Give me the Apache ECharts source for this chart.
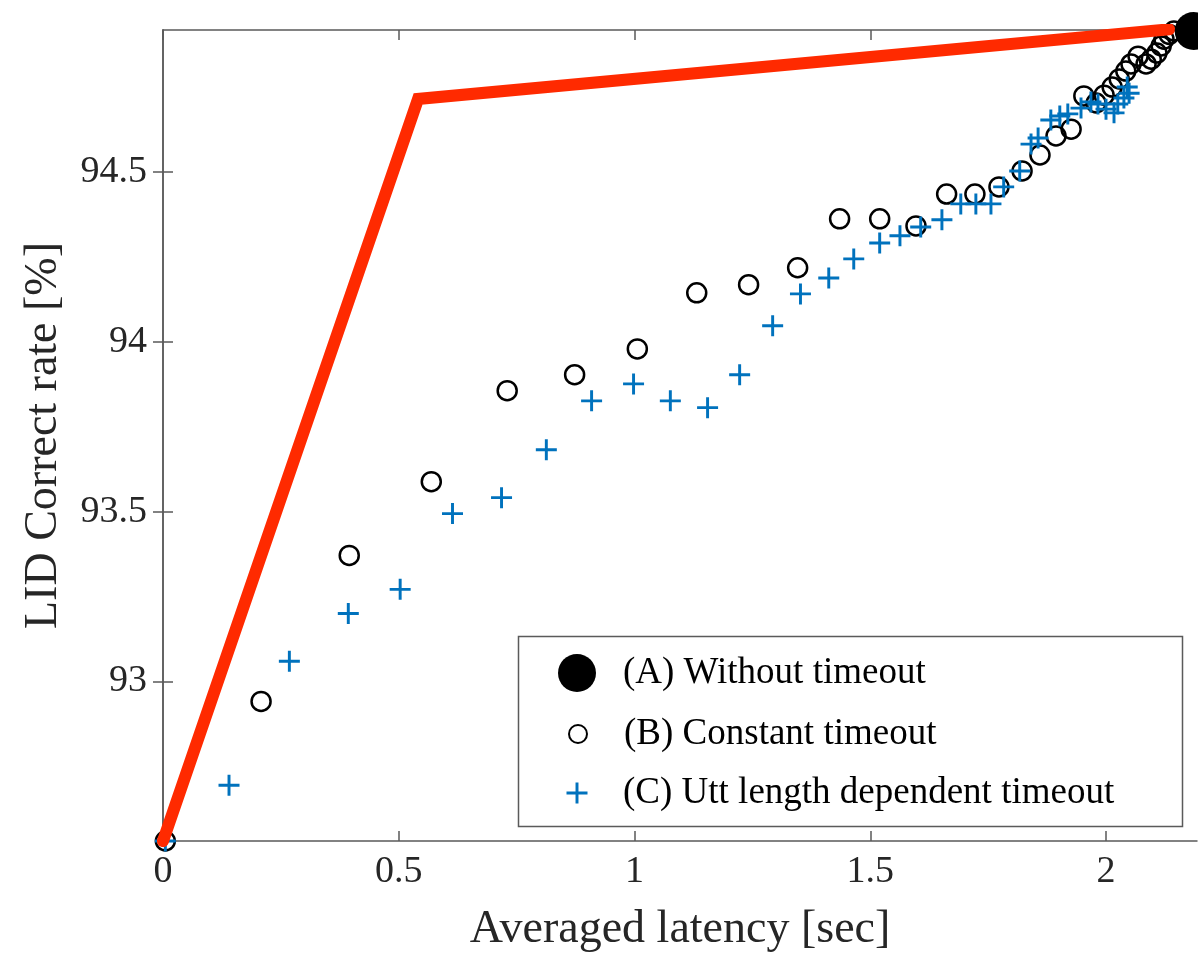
<!DOCTYPE html>
<html>
<head>
<meta charset="utf-8">
<title>LID correct rate vs latency</title>
<script src="https://cdn.jsdelivr.net/npm/echarts@6/dist/echarts.min.js"></script>
<style>
  html, body { margin: 0; padding: 0; background: #fff; }
  #chart { width: 1198px; height: 955px; }
</style>
</head>
<body>
<div id="chart"></div>
<script>
  // (A) without timeout
  var pointA = [[2.186, 94.915]];

  // (B) constant timeout
  var constX = [0.005, 0.208, 0.395, 0.569, 0.730, 0.873, 1.006, 1.132, 1.242, 1.346,
    1.435, 1.520, 1.597, 1.662, 1.722, 1.773, 1.822, 1.860, 1.894, 1.926,
    1.953, 1.979, 1.996, 2.013, 2.028, 2.042, 2.053, 2.068, 2.085, 2.096,
    2.108, 2.117, 2.123, 2.134, 2.144];
  var constY = [92.53, 92.941, 93.371, 93.588, 93.856, 93.903, 93.979, 94.144, 94.168, 94.218,
    94.362, 94.362, 94.341, 94.435, 94.435, 94.456, 94.503, 94.55, 94.606, 94.626,
    94.724, 94.703, 94.726, 94.75, 94.774, 94.797, 94.818, 94.841, 94.818, 94.832,
    94.85, 94.871, 94.891, 94.905, 94.915];

  // (C) utt length dependent timeout
  var uttX = [0.005, 0.140, 0.268, 0.393, 0.503, 0.614, 0.718, 0.813, 0.909, 0.998,
    1.076, 1.155, 1.223, 1.293, 1.352, 1.412, 1.465, 1.520, 1.563, 1.607,
    1.652, 1.692, 1.724, 1.756, 1.783, 1.817, 1.841, 1.856, 1.883, 1.902,
    1.919, 1.947, 1.968, 1.983, 2.000, 2.017, 2.025, 2.038, 2.049, 2.045];
  var uttY = [92.53, 92.694, 93.059, 93.2, 93.271, 93.494, 93.541, 93.682, 93.826, 93.876,
    93.826, 93.806, 93.903, 94.047, 94.141, 94.188, 94.244, 94.291, 94.312, 94.338,
    94.359, 94.406, 94.406, 94.406, 94.456, 94.503, 94.582, 94.6, 94.653, 94.665,
    94.671, 94.688, 94.706, 94.7, 94.685, 94.674, 94.7, 94.718, 94.732, 94.75];

  // red upper envelope
  var envX = [0, 0.541, 2.134];
  var envY = [92.53, 94.715, 94.92];

  // tick labels
  var xTicks = [0, 0.5, 1, 1.5, 2];
  var yTicks = [93, 93.5, 94, 94.5];

  var xMin = 0, xMax = 2.193;
  var yMin = 92.53, yMax = 94.918;

  var names = ['(A) Without timeout', '(B) Constant timeout', '(C) Utt length dependent timeout'];

  function zip(xs, ys) {
    return xs.map(function (x, i) { return [x, ys[i]]; });
  }

  var plusPath = 'path://M4.3,0 H5.7 V4.3 H10 V5.7 H5.7 V10 H4.3 V5.7 H0 V4.3 H4.3 Z';
  var serif = 'Liberation Serif';
  var grey = '#5a5a5a';
  var frame = { show: true, lineStyle: { color: grey, width: 1.5 } };
  function ticks(vals) {
    return { show: true, inside: true, length: 10, customValues: vals, lineStyle: { color: grey, width: 1.5 } };
  }
  function legendRow(name, size, top) {
    // icon centred at x=577, text starting at x=623
    var left = 577 - size / 2;
    return {
      data: [name], left: left, top: top, orient: 'vertical', padding: 0,
      itemWidth: size, itemHeight: size,
      textStyle: { fontFamily: serif, fontSize: 37, color: '#000', lineHeight: 42,
        padding: [0, 0, 0, 623 - (left + size + 5)] }
    };
  }

  var chart = echarts.init(document.getElementById('chart'));
  chart.setOption({
    animation: false,
    backgroundColor: '#fff',
    grid: { left: 163, top: 30, right: 1, bottom: 114, containLabel: false, outerBoundsMode: 'none' },
    xAxis: [{
      type: 'value', min: xMin, max: xMax,
      axisLine: frame, axisTick: ticks(xTicks), splitLine: { show: false },
      axisLabel: { customValues: xTicks, fontFamily: serif, fontSize: 38, color: '#262626', margin: 12 },
      name: 'Averaged latency [sec]', nameLocation: 'middle', nameGap: 66,
      nameTextStyle: { fontFamily: serif, fontSize: 46, color: '#262626' }
    }, {
      type: 'value', position: 'top', min: xMin, max: xMax,
      axisLine: frame, axisTick: ticks(xTicks), splitLine: { show: false }, axisLabel: { show: false }
    }],
    yAxis: [{
      type: 'value', min: yMin, max: yMax,
      axisLine: frame, axisTick: ticks(yTicks), splitLine: { show: false },
      axisLabel: { customValues: yTicks, fontFamily: serif, fontSize: 38, color: '#262626', margin: 16 },
      name: 'LID Correct rate [%]', nameLocation: 'middle', nameGap: 96, nameRotate: 90,
      nameTextStyle: { fontFamily: serif, fontSize: 46, color: '#262626' }
    }, {
      type: 'value', position: 'right', min: yMin, max: yMax,
      axisLine: frame, axisTick: ticks(yTicks), splitLine: { show: false }, axisLabel: { show: false }
    }],
    legend: [
      legendRow(names[0], 38, 652),
      legendRow(names[1], 18, 713),
      legendRow(names[2], 21, 772)
    ],
    graphic: [{
      type: 'rect', left: 516, top: 634, z: 100,
      shape: { width: 664, height: 190 },
      style: { fill: 'none', stroke: grey, lineWidth: 1.5 }
    }],
    series: [
      {
        name: names[1], type: 'scatter', data: zip(constX, constY),
        symbol: 'circle', symbolSize: 19, z: 3,
        itemStyle: { color: 'rgba(0,0,0,0)', borderColor: '#000', borderWidth: 2.5, opacity: 1 }
      },
      {
        name: names[2], type: 'scatter', data: zip(uttX, uttY),
        symbol: plusPath, symbolSize: 21, z: 4,
        itemStyle: { color: '#0072bd', opacity: 1 }
      },
      {
        name: 'envelope', type: 'line', data: zip(envX, envY),
        symbol: 'none', z: 5,
        lineStyle: { color: '#ff2a00', width: 12, cap: 'round', join: 'miter' }
      },
      {
        name: names[0], type: 'scatter', data: pointA,
        symbol: 'circle', symbolSize: 38, z: 6, clip: false,
        itemStyle: { color: '#000', opacity: 1 }
      }
    ]
  });
</script>
</body>
</html>
